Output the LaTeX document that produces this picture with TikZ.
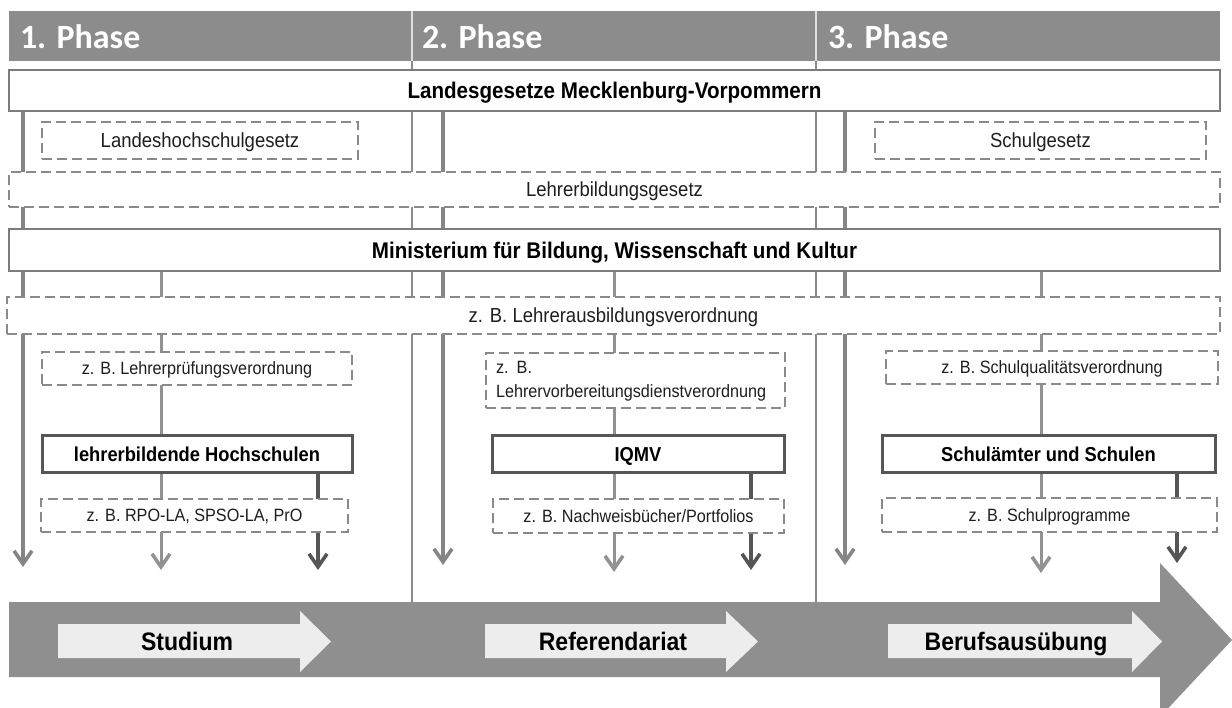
\documentclass[tikz,border=0pt]{standalone}
\usepackage{fontspec}
\setmainfont{Liberation Sans}
\newfontfamily\phasefont{Carlito}
\usetikzlibrary{arrows.meta,backgrounds}
\definecolor{hdr}{HTML}{8C8C8C}
\definecolor{bandc}{HTML}{8F8F8F}
\definecolor{lite}{HTML}{EDEDED}
\definecolor{framec}{HTML}{7C7C7C}
\definecolor{darkframe}{HTML}{565656}
\definecolor{dashc}{HTML}{8A8A8A}
\definecolor{trunkc}{HTML}{858585}
\definecolor{branchc}{HTML}{929292}
\definecolor{darkc}{HTML}{555555}
\definecolor{txt}{HTML}{1E1E1E}
\definecolor{divc}{HTML}{8A8A8A}
\newcommand\bigfs{\fontsize{18.5}{22}\selectfont}
\newcommand\smallfs{\fontsize{16.2}{24}\selectfont}
\newcommand\titlefs{\fontsize{20.6}{24}\selectfont\bfseries}
\newcommand\labelfs{\fontsize{18.3}{22}\selectfont\bfseries}
\newcommand\arrowfs{\fontsize{23}{26}\selectfont\bfseries}
\newcommand\vstr[1]{\scalebox{1}[1.1]{#1}}
\tikzset{
  every node/.style={inner sep=0pt, outer sep=0pt},
  titlebox/.style={draw=framec, line width=2.5pt, fill=white, font=\titlefs, text height=16.2pt, text depth=0pt},
  orgbox/.style={draw=darkframe, line width=3pt, fill=white, font=\labelfs, text height=14.4pt, text depth=0pt},
  dashbox/.style={draw=dashc, line width=2pt, dash pattern=on 10pt off 5pt, fill=white, text=txt},
  bigdash/.style={dashbox, font=\bigfs, text height=14.6pt, text depth=0pt},
  smalldash/.style={dashbox, font=\smallfs, text height=12.8pt, text depth=0pt},
  trunk/.style={draw=trunkc, line width=4pt},
  branch/.style={draw=branchc, line width=3pt},
  darkbranch/.style={draw=darkc, line width=3.5pt},
  divider/.style={draw=divc, line width=1.2pt},
  tipped/.style={-{Straight Barb[length=13pt,width=18pt,line width=3.6pt]}},
  phaselabel/.style={anchor=base west, text=white, font={\phasefont\fontsize{34}{40}\selectfont\bfseries}},
  arrowlabel/.style={anchor=base, font=\arrowfs, text=black},
}
\begin{document}
\begin{tikzpicture}[x=1pt,y=-1pt]
\clip (0,0) rectangle (1232,708);

% header
\node[fill=hdr, minimum width=1211, minimum height=50, anchor=north west] (hdr) at (9,11) {};
\coordinate (d1top) at (412,11);
\coordinate (d1bot) at (412,602);
\coordinate (d2top) at (816,11);
\coordinate (d2bot) at (816,602);
\coordinate (d1mid) at (412,61);
\coordinate (d2mid) at (816,61);
\draw[white!75!gray, line width=1.2pt] (d1top) -- (d1mid);
\draw[white!75!gray, line width=1.2pt] (d2top) -- (d2mid);
\node[phaselabel] (ph1) at (20,49) {1. Phase};
\node[phaselabel] (ph2) at (422,49) {2. Phase};
\node[phaselabel] (ph3) at (828,49) {3. Phase};

% law / authority boxes
\node[titlebox, minimum width=1211, minimum height=41] (LG) at (614.5,90.5) {\vstr{Landesgesetze Mecklenburg-Vorpommern}};
\node[bigdash, minimum width=316, minimum height=37] (LHG) at (200,140.5) {\vstr{Landeshochschulgesetz}};
\node[bigdash, minimum width=331, minimum height=37] (SG) at (1040.5,140.5) {\vstr{Schulgesetz}};
\node[bigdash, minimum width=1211, minimum height=35] (LBG) at (614.5,189.5) {\vstr{Lehrerbildungsgesetz}};
\node[titlebox, minimum width=1211, minimum height=42] (MIN) at (614.5,250) {\vstr{Ministerium für Bildung, Wissenschaft und Kultur}};
\node[bigdash, minimum width=1213, minimum height=37] (LAV) at (613.5,315.5) {\vstr{z. B. Lehrerausbildungsverordnung}};

% phase 1
\node[smalldash, minimum width=310, minimum height=33] (LPV) at (197,368.5) {\vstr{z. B. Lehrerprüfungsverordnung}};
\node[orgbox, minimum width=310, minimum height=36] (LH) at (197,454) {\vstr{lehrerbildende Hochschulen}};
\node[smalldash, minimum width=307, minimum height=33] (RPO) at (194.5,515.5) {\vstr{z. B. RPO-LA, SPSO-LA, PrO}};

% phase 2
\node[dashbox, minimum width=299, minimum height=55, text width=279, align=left, font=\smallfs] (LVD) at (635.5,381) {\vstr{z. B.}\\\vstr{Lehrervorbereitungsdienstverordnung}};
\node[orgbox, minimum width=292, minimum height=36] (IQ) at (638,454) {\vstr{IQMV}};
\node[smalldash, minimum width=291, minimum height=34] (NB) at (638.5,516) {\vstr{z. B. Nachweisbücher/Portfolios}};

% phase 3
\node[smalldash, minimum width=332, minimum height=33] (SQV) at (1052,367.5) {\vstr{z. B. Schulqualitätsverordnung}};
\node[orgbox, minimum width=333, minimum height=36] (SuS) at (1048.5,454) {\vstr{Schulämter und Schulen}};
\node[smalldash, minimum width=335, minimum height=34] (SP) at (1049.5,515) {\vstr{z. B. Schulprogramme}};

% column coordinates
\coordinate (t1) at (23,0);   \coordinate (t2) at (443,0);   \coordinate (t3) at (845,0);
\coordinate (b1) at (161,0);  \coordinate (b2) at (614,0);   \coordinate (b3) at (1041,0);
\coordinate (k1) at (318,0);  \coordinate (k2) at (751,0);   \coordinate (k3) at (1177,0);
\coordinate (t1end) at (23,567);  \coordinate (t2end) at (443,565);  \coordinate (t3end) at (845,565);
\coordinate (b1end) at (161,570); \coordinate (b2end) at (614,572);  \coordinate (b3end) at (1041,573);
\coordinate (k1end) at (318,570); \coordinate (k2end) at (751,570);  \coordinate (k3end) at (1177,563);

\begin{scope}[on background layer]
  \draw[divider] (d1top) -- (d1bot);
  \draw[divider] (d2top) -- (d2bot);
  % trunks
  \draw[trunk, tipped] (LG.south -| t1) -- (t1end);
  \draw[trunk, tipped] (LG.south -| t2) -- (t2end);
  \draw[trunk, tipped] (LG.south -| t3) -- (t3end);
  % medium branches
  \draw[branch, tipped] (MIN.south -| b1) -- (b1end);
  \draw[branch, tipped] (MIN.south -| b2) -- (b2end);
  \draw[branch, tipped] (MIN.south -| b3) -- (b3end);
  % dark branches
  \draw[darkbranch, tipped] (LH.south -| k1) -- (k1end);
  \draw[darkbranch, tipped] (IQ.south -| k2) -- (k2end);
  \draw[darkbranch, tipped] (SuS.south -| k3) -- (k3end);
\end{scope}

% big timeline arrow
\fill[bandc] (9,602) -- (1160,602) -- (1160,563) -- (1232,640) -- (1160,717) -- (1160,677) -- (9,677) -- cycle;
\fill[lite] (58,624) -- (300,624) -- (300,611) -- (331,641.5) -- (300,672) -- (300,658) -- (58,658) -- cycle;
\fill[lite] (485,624) -- (726,624) -- (726,611) -- (758,641.5) -- (726,672) -- (726,658) -- (485,658) -- cycle;
\fill[lite] (888,624) -- (1132,624) -- (1132,611) -- (1162,641.5) -- (1132,672) -- (1132,658) -- (888,658) -- cycle;
\node[arrowlabel] (stud) at (187,650) {\vstr{Studium}};
\node[arrowlabel] (ref) at (613,650) {\vstr{Referendariat}};
\node[arrowlabel] (beruf) at (1016,650) {\vstr{Berufsausübung}};
\end{tikzpicture}
\end{document}
